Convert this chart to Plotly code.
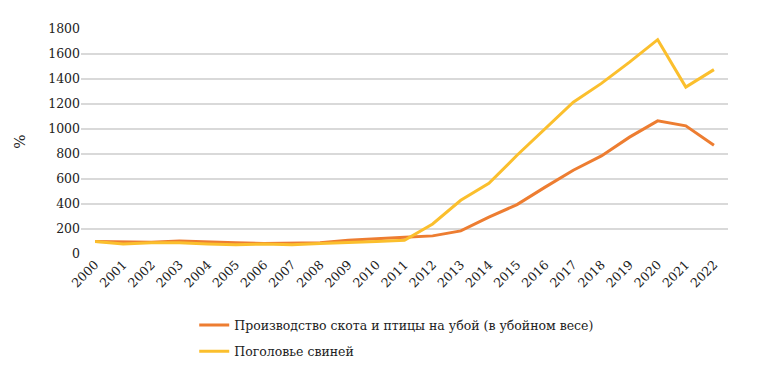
import plotly.graph_objects as go

years = [str(y) for y in range(2000, 2023)]
production = [100, 95, 95, 105, 95, 90, 85, 85, 90, 110, 125, 135, 145, 185, 295, 395, 535, 670, 785, 935, 1065, 1025, 870]
pigs = [100, 80, 90, 90, 80, 75, 80, 75, 85, 90, 100, 110, 240, 430, 565, 790, 1005, 1215, 1365, 1535, 1715, 1335, 1475]

y_ticks = [0, 200, 400, 600, 800, 1000, 1200, 1400, 1600, 1800]

font_family = "DejaVu Serif"

fig = go.Figure()
fig.add_trace(go.Scatter(x=years, y=production, mode="lines",
                         name="Производство скота и птицы на убой (в убойном весе)",
                         legendgroup="a",
                         line=dict(color="#ED7D31", width=3)))
fig.add_trace(go.Scatter(x=years, y=pigs, mode="lines",
                         name="Поголовье свиней",
                         legendgroup="b",
                         line=dict(color="#FBBF2D", width=3)))

fig.update_layout(
    width=768, height=385,
    margin=dict(l=68, r=48, t=21, b=139),
    paper_bgcolor="white", plot_bgcolor="white",
    font=dict(family=font_family, size=12.5, color="#222"),
    showlegend=True,
    legend=dict(x=0.175, xanchor="left", y=-0.25, yanchor="top",
                orientation="v", font=dict(size=12.5, family=font_family),
                tracegroupgap=7, bgcolor="rgba(0,0,0,0)"),
    xaxis=dict(type="category", tickangle=-45, showgrid=False, zeroline=False,
               showline=False, ticks="", range=[-0.5, 22.5],
               tickfont=dict(size=12.5)),
    yaxis=dict(range=[0, 1800], tickvals=y_ticks, showgrid=True,
               gridcolor="#D9D9D9", gridwidth=1.5, zeroline=False,
               title=dict(text="%", standoff=18, font=dict(size=15)),
               tickfont=dict(size=12.5)),
)

fig.write_html("out.html")
